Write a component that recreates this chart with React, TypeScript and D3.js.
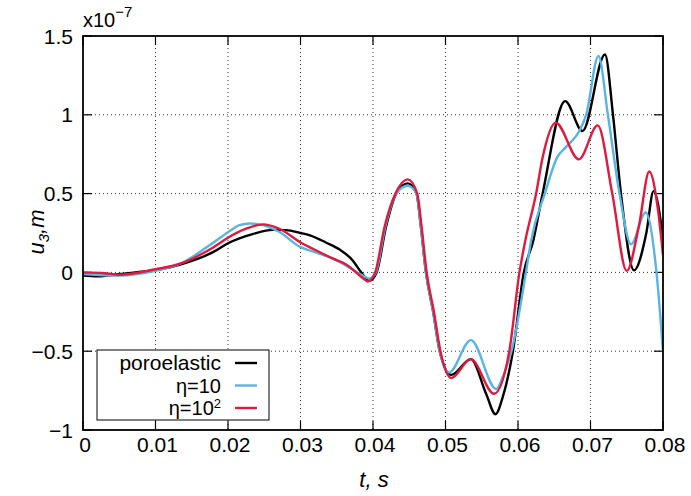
import React from "react";
import * as d3 from "d3";

const W = 691, H = 496;
const M = { left: 83, right: 663, top: 36, bottom: 430 };

const xTicks = [0, 0.01, 0.02, 0.03, 0.04, 0.05, 0.06, 0.07, 0.08];
const xTickLabels = ["0", "0.01", "0.02", "0.03", "0.04", "0.05", "0.06", "0.07", "0.08"];
const yTicks = [-1, -0.5, 0, 0.5, 1, 1.5];
const yTickLabels = ["\u22121", "\u22120.5", "0", "0.5", "1", "1.5"];

const poroT = [0, 0.002, 0.005, 0.01, 0.0134, 0.018, 0.02, 0.0235, 0.0262, 0.028, 0.03, 0.0313, 0.0335, 0.0354, 0.0372, 0.0383, 0.0395, 0.0405, 0.0418, 0.0432, 0.0448, 0.046, 0.0466, 0.0473, 0.0483, 0.0492, 0.0508, 0.0535, 0.0556, 0.0569, 0.0579, 0.0593, 0.0608, 0.0621, 0.0634, 0.0665, 0.0689, 0.072, 0.0731, 0.0742, 0.076, 0.0777, 0.0787, 0.08];
const poroV = [-0.02, -0.025, -0.01, 0.015, 0.05, 0.13, 0.185, 0.245, 0.27, 0.268, 0.25, 0.235, 0.19, 0.145, 0.076, 0.005, -0.052, 0, 0.29, 0.5, 0.565, 0.5, 0.29, 0, -0.25, -0.5, -0.65, -0.55, -0.77, -0.9, -0.79, -0.5, 0, 0.2, 0.5, 1.087, 0.897, 1.383, 1.0, 0.5, 0.013, 0.25, 0.516, 0.22];

const eta10T = [0, 0.005, 0.01, 0.0134, 0.018, 0.02, 0.0216, 0.023, 0.0243, 0.0271, 0.03, 0.0317, 0.0345, 0.0363, 0.039, 0.0395, 0.0404, 0.0417, 0.0432, 0.0448, 0.046, 0.0466, 0.0473, 0.0483, 0.0492, 0.0505, 0.0535, 0.057, 0.058, 0.0591, 0.0611, 0.0618, 0.0637, 0.0654, 0.0666, 0.0685, 0.0694, 0.0711, 0.0724, 0.074, 0.0756, 0.0776, 0.0791, 0.08];
const eta10V = [-0.01, -0.02, 0.01, 0.055, 0.19, 0.255, 0.3, 0.31, 0.305, 0.256, 0.16, 0.133, 0.087, 0.043, -0.03, -0.04, 0, 0.29, 0.5, 0.55, 0.5, 0.29, 0, -0.25, -0.5, -0.635, -0.43, -0.74, -0.65, -0.5, 0, 0.2, 0.5, 0.73, 0.795, 0.9, 1.0, 1.373, 1.0, 0.5, 0.178, 0.38, 0, -0.5];

const eta100T = [0, 0.003, 0.005, 0.01, 0.0134, 0.018, 0.02, 0.0225, 0.0248, 0.0271, 0.03, 0.0317, 0.0345, 0.0363, 0.039, 0.0393, 0.0403, 0.0416, 0.0431, 0.0448, 0.0461, 0.0467, 0.0474, 0.0484, 0.0493, 0.0508, 0.0535, 0.0567, 0.0588, 0.0602, 0.061, 0.0625, 0.0634, 0.0652, 0.0684, 0.071, 0.073, 0.075, 0.0767, 0.0781, 0.0793, 0.08];
const eta100V = [0, -0.005, -0.015, 0.02, 0.055, 0.16, 0.22, 0.277, 0.305, 0.277, 0.19, 0.15, 0.087, 0.05, -0.05, -0.058, 0, 0.29, 0.5, 0.59, 0.5, 0.29, 0, -0.25, -0.5, -0.67, -0.55, -0.77, -0.5, 0, 0.2, 0.5, 0.73, 0.95, 0.717, 0.933, 0.5, 0.01, 0.3, 0.64, 0.4, 0.11];

const seriesNames = ["poroelastic", "\u03b7=10", "\u03b7=10"];
const seriesColors = ["#000000", "#5ab4e2", "#e0193f"];

export default function App() {
  const x = d3.scaleLinear().domain([0, 0.08]).range([M.left, M.right]);
  const y = d3.scaleLinear().domain([-1, 1.5]).range([M.bottom, M.top]);
  const line = d3
    .line<[number, number]>()
    .x((d) => x(d[0]))
    .y((d) => y(d[1]))
    .curve(d3.curveMonotoneX);
  const series = [
    { t: poroT, v: poroV },
    { t: eta10T, v: eta10V },
    { t: eta100T, v: eta100V },
  ];
  const font = "Liberation Sans, Arial, Helvetica, sans-serif";
  const legX0 = 97, legY0 = 350, legX1 = 269, legY1 = 420;
  const legRows = [363, 385.5, 408];

  return (
    <svg width={W} height={H} style={{ position: "absolute", left: 0, top: 0, background: "#fff" }} fontFamily={font}>
      <rect x={0} y={0} width={W} height={H} fill="#fff" />
      <defs>
        <clipPath id="plotclip">
          <rect x={M.left} y={M.top - 2} width={M.right - M.left} height={M.bottom - M.top + 4} />
        </clipPath>
      </defs>
      {xTicks.slice(1, -1).map((t, i) => (
        <line key={"gx" + i} x1={x(t)} x2={x(t)} y1={M.top} y2={M.bottom} stroke="#000" strokeWidth={1} strokeDasharray="1,3" opacity={0.8} />
      ))}
      {yTicks.slice(1, -1).map((t, i) => (
        <line key={"gy" + i} x1={M.left} x2={M.right} y1={y(t)} y2={y(t)} stroke="#000" strokeWidth={1} strokeDasharray="1,3" opacity={0.8} />
      ))}
      {xTicks.map((t, i) => (
        <g key={"xt" + i}>
          <line x1={x(t)} x2={x(t)} y1={M.bottom} y2={M.bottom - 9} stroke="#000" strokeWidth={1.2} />
          <line x1={x(t)} x2={x(t)} y1={M.top} y2={M.top + 9} stroke="#000" strokeWidth={1.2} />
          <text x={x(t) + 2} y={452} fontSize={21} textAnchor="middle" fill="#000">{xTickLabels[i]}</text>
        </g>
      ))}
      {yTicks.map((t, i) => (
        <g key={"yt" + i}>
          <line x1={M.left} x2={M.left + 9} y1={y(t)} y2={y(t)} stroke="#000" strokeWidth={1.2} />
          <line x1={M.right} x2={M.right - 9} y1={y(t)} y2={y(t)} stroke="#000" strokeWidth={1.2} />
          <text x={73} y={y(t) + 7.5} fontSize={21} textAnchor="end" fill="#000">{yTickLabels[i]}</text>
        </g>
      ))}
      <g clipPath="url(#plotclip)">
        {series.map((s, i) => (
          <path key={"s" + i} d={line(s.t.map((t, j) => [t, s.v[j]] as [number, number])) || ""} fill="none" stroke={seriesColors[i]} strokeWidth={2.4} strokeLinejoin="round" />
        ))}
      </g>
      <rect x={M.left} y={M.top} width={M.right - M.left} height={M.bottom - M.top} fill="none" stroke="#000" strokeWidth={1.8} />
      <rect x={legX0} y={legY0} width={legX1 - legX0} height={legY1 - legY0} fill="#fff" stroke="#000" strokeWidth={1} />
      {legRows.map((ry, i) => (
        <g key={"lg" + i}>
          <text x={221} y={ry + 7} fontSize={i === 0 ? 21 : 20} textAnchor="end" fill="#000">
            {seriesNames[i]}
            {i === 2 ? <tspan dy={-7} fontSize={13}>2</tspan> : null}
          </text>
          <line x1={235} x2={257} y1={ry} y2={ry} stroke={seriesColors[i]} strokeWidth={2.4} />
        </g>
      ))}
      <text x={83} y={27} fontSize={20} fill="#000">
        x10<tspan dy={-10} fontSize={15}>{"\u22127"}</tspan>
      </text>
      <text x={374} y={487} fontSize={22} fontStyle="italic" textAnchor="middle" fill="#000">t, s</text>
      <text transform={`translate(44, ${232}) rotate(-90)`} fontSize={22} fontStyle="italic" textAnchor="middle" fill="#000">
        u<tspan dy={5} fontSize={15}>3</tspan><tspan dy={-5}>,m</tspan>
      </text>
    </svg>
  );
}
